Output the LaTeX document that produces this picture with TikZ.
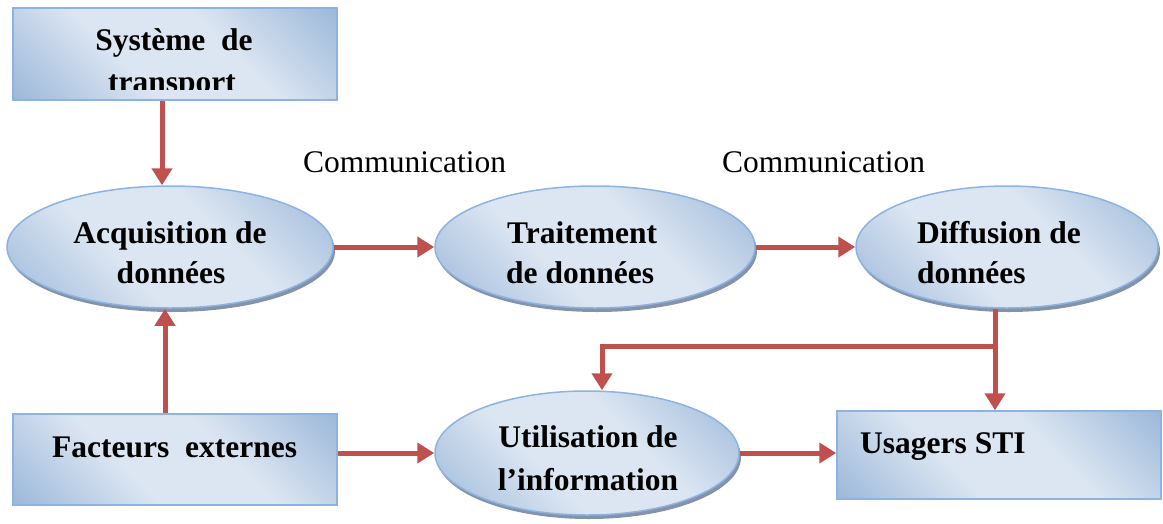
\documentclass[tikz,border=0pt]{standalone}
\usepackage{fontspec}
\setmainfont{Liberation Serif}
\usetikzlibrary{arrows.meta,shapes.geometric,shadows}
\definecolor{dk}{HTML}{95B3D7}
\definecolor{lt}{HTML}{DCE6F2}
\definecolor{bd}{HTML}{8DB3E2}
\definecolor{arrc}{HTML}{C0504D}
\definecolor{shd}{HTML}{8593A8}
\pgfdeclarehorizontalshading{wordfill}{100bp}{color(0bp)=(dk); color(12bp)=(dk); color(40bp)=(lt); color(60bp)=(lt); color(88bp)=(dk); color(100bp)=(dk)}
\begin{document}
\begin{tikzpicture}[x=1pt,y=-1pt,
  boxst/.style={rectangle, draw=bd, line width=1.5pt, inner sep=0pt,
    shading=wordfill, shading angle=45},
  ellst/.style={ellipse, draw=bd, line width=1.5pt, inner sep=0pt,
    drop shadow={shadow xshift=2pt, shadow yshift=-4pt, fill=shd, opacity=1},
    shading=wordfill, shading angle=45},
  lab/.style={font=\fontsize{31.5}{38}\selectfont\bfseries, inner sep=0pt, anchor=base},
  labw/.style={lab, anchor=base west},
  comm/.style={font=\fontsize{31.5}{38}\selectfont, inner sep=0pt, anchor=base west},
  conn/.style={draw=arrc, line width=5pt, -{Triangle[width=20pt,length=17pt]}}]
\useasboundingbox (0,0) rectangle (1163,523);
% shapes
\node[boxst, minimum width=324pt, minimum height=92pt] (sys) at (175,54) {};
\node[ellst, minimum width=326pt, minimum height=122pt] (acq) at (170,247) {};
\node[ellst, minimum width=320pt, minimum height=122pt] (trait) at (595,247) {};
\node[ellst, minimum width=302pt, minimum height=122pt] (diff) at (1007,247) {};
\node[ellst, minimum width=304pt, minimum height=124pt] (util) at (587,453) {};
\node[boxst, minimum width=324pt, minimum height=91pt] (fact) at (175,459.5) {};
\node[boxst, minimum width=324pt, minimum height=88pt] (usag) at (999,455) {};
% texts
\begin{scope}
\clip (13,8) rectangle (337,89.5);
\node[lab] (sysA) at (174,50) {Système\ \ de};
\node[lab] (sysB) at (172,92) {transport};
\end{scope}
\node[lab] (acqA) at (170,243) {Acquisition de};
\node[lab] (acqB) at (171,283) {données};
\node[labw] (traitA) at (507,243) {Traitement};
\node[labw] (traitB) at (506,283) {de données};
\node[labw] (diffA) at (917,243) {Diffusion de};
\node[labw] (diffB) at (917,283) {données};
\node[lab] (utilA) at (588,447) {Utilisation de};
\node[lab] (utilB) at (588,490) {l’information};
\node[labw] (factA) at (52,457) {Facteurs\ \ externes};
\node[labw] (usagA) at (860,453) {Usagers STI};
\node[comm] (com1) at (303,172) {Communication};
\node[comm] (com2) at (722,172) {Communication};
% connectors
\draw[conn] ([xshift=-13pt]sys.south) -- ([xshift=-8pt]acq.north);
\draw[conn] ([xshift=-10pt]fact.north) -- ([xshift=-5pt]acq.south);
\draw[conn] (acq.east) -- (trait.west);
\draw[conn] (trait.east) -- (diff.west);
\draw[conn] (fact.east |- util.west) -- (util.west);
\draw[conn] (util.east) -- (usag.west |- util.east);
\coordinate (br) at (995,346);
\coordinate (bl) at (602,346);
\draw[conn] (diff.south -| br) -- (usag.north -| br);
\draw[conn] (br) -- (bl) -- (bl |- util.north);
\end{tikzpicture}
\end{document}
